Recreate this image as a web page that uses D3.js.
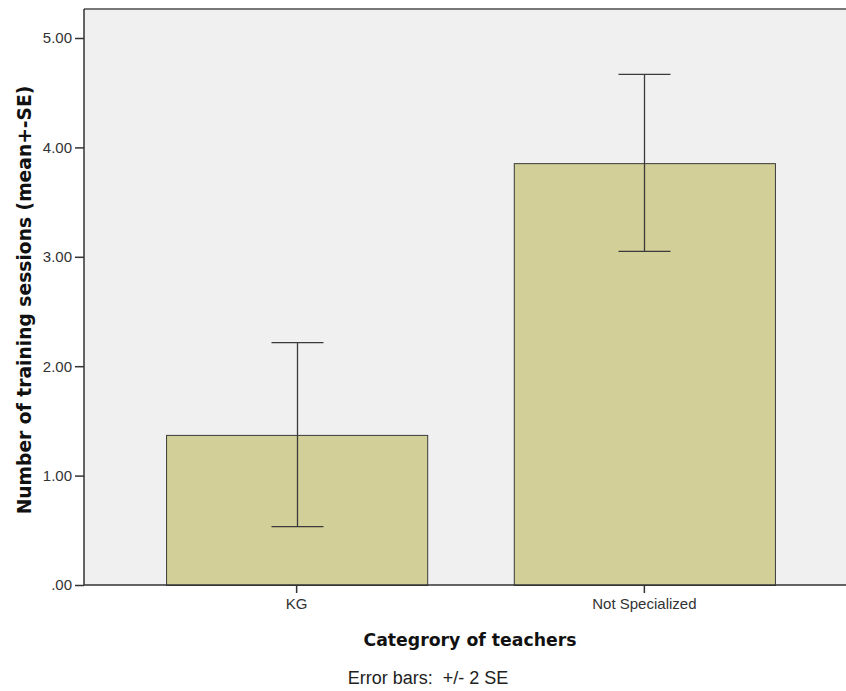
<!DOCTYPE html>
<html>
<head>
<meta charset="utf-8">
<script src="https://cdn.jsdelivr.net/npm/d3@7"></script>
<style>
  html, body { margin: 0; padding: 0; background: #ffffff; }
  svg { display: block; font-family: "Liberation Sans", Arial, sans-serif; }
</style>
</head>
<body>
<svg id="chart" width="846" height="691"></svg>
<script>
// Mean number of training sessions per teacher category, with +/- 2 SE bars
const categories = ["KG", "Not Specialized"];
const means = [1.372, 3.856];
const errLow = [0.533, 3.050];
const errHigh = [2.215, 4.668];
const yTicks = [0, 1, 2, 3, 4, 5];
const yTickLabels = [".00", "1.00", "2.00", "3.00", "4.00", "5.00"];

const svg = d3.select("#chart");
const plot = { left: 84, right: 857, top: 9, bottom: 585 };
const titleFont = "'DejaVu Sans', Verdana, sans-serif";
const labelFont = "'Liberation Sans', Arial, sans-serif";

const x = d3.scaleBand()
  .domain(categories)
  .range([plot.left, plot.right])
  .paddingInner(0.249)
  .paddingOuter(0.236);

const y = d3.scaleLinear()
  .domain([0, 5])
  .range([plot.bottom, 38]);

// plot background
svg.append("rect")
  .attr("x", plot.left).attr("y", plot.top)
  .attr("width", plot.right - plot.left)
  .attr("height", plot.bottom - plot.top)
  .attr("fill", "#f0f0f0");

// top frame line
svg.append("line")
  .attr("x1", plot.left).attr("x2", plot.right)
  .attr("y1", plot.top).attr("y2", plot.top)
  .attr("stroke", "#777").attr("stroke-width", 2);

// bars
const data = categories.map((c, i) => ({ c, m: means[i], lo: errLow[i], hi: errHigh[i] }));
svg.append("g").selectAll("rect").data(data).join("rect")
  .attr("x", d => x(d.c) + 0.5)
  .attr("y", d => y(d.m) + 0.5)
  .attr("width", x.bandwidth())
  .attr("height", d => y(0) - y(d.m))
  .attr("fill", "#d3cf98")
  .attr("stroke", "#3a3a3a")
  .attr("stroke-width", 1);

// error bars
const capHalf = 26;
const eb = svg.append("g").attr("stroke", "#3a3a3a").attr("stroke-width", 1.3);
data.forEach(d => {
  const cx = Math.round(x(d.c) + x.bandwidth() / 2) + 0.5;
  eb.append("line").attr("x1", cx).attr("x2", cx).attr("y1", y(d.hi)).attr("y2", y(d.lo));
  eb.append("line").attr("x1", cx - capHalf).attr("x2", cx + capHalf).attr("y1", y(d.hi)).attr("y2", y(d.hi));
  eb.append("line").attr("x1", cx - capHalf).attr("x2", cx + capHalf).attr("y1", y(d.lo)).attr("y2", y(d.lo));
});

// y axis
const yAxis = d3.axisLeft(y)
  .tickValues(yTicks)
  .tickFormat((d, i) => yTickLabels[i])
  .tickSize(9)
  .tickPadding(3)
  .tickSizeOuter(0);
const gy = svg.append("g").attr("transform", `translate(${plot.left},0)`).call(yAxis);
gy.select(".domain").remove();
gy.selectAll(".tick line").attr("stroke", "#333").attr("stroke-width", 1.5);
gy.selectAll(".tick text").attr("fill", "#333").attr("font-size", 15).attr("font-family", labelFont);

// left axis line
svg.append("line")
  .attr("x1", plot.left).attr("x2", plot.left)
  .attr("y1", plot.top).attr("y2", plot.bottom)
  .attr("stroke", "#333").attr("stroke-width", 1.5);

// x axis
const xAxis = d3.axisBottom(x).tickSize(8).tickPadding(5).tickSizeOuter(0);
const gx = svg.append("g").attr("transform", `translate(0,${plot.bottom})`).call(xAxis);
gx.select(".domain").remove();
gx.selectAll(".tick line").attr("stroke", "#333").attr("stroke-width", 1.5);
gx.selectAll(".tick text").attr("fill", "#333").attr("font-size", 15).attr("font-family", labelFont);

svg.append("line")
  .attr("x1", plot.left).attr("x2", plot.right)
  .attr("y1", plot.bottom).attr("y2", plot.bottom)
  .attr("stroke", "#333").attr("stroke-width", 1.5);

// titles
svg.append("text")
  .attr("transform", `translate(31,300) rotate(-90)`)
  .attr("text-anchor", "middle")
  .attr("font-family", titleFont)
  .attr("font-weight", "bold").attr("font-size", 18.7).attr("fill", "#111")
  .text("Number of training sessions (mean+-SE)");

svg.append("text")
  .attr("x", 470).attr("y", 646)
  .attr("text-anchor", "middle")
  .attr("font-family", titleFont)
  .attr("font-weight", "bold").attr("font-size", 17.3).attr("fill", "#111")
  .text("Categrory of teachers");

svg.append("text")
  .attr("x", 428).attr("y", 684)
  .attr("text-anchor", "middle")
  .attr("font-family", labelFont)
  .attr("font-size", 18).attr("fill", "#222")
  .attr("xml:space", "preserve").style("white-space", "pre")
  .text("Error bars:  +/- 2 SE");
</script>
</body>
</html>
